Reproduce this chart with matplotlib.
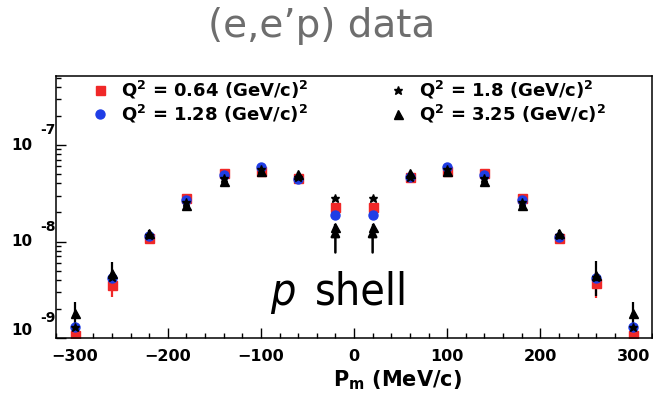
import numpy as np
import matplotlib
matplotlib.use('Agg')
import matplotlib.pyplot as plt
from matplotlib.transforms import offset_copy

plt.rcParams['font.family'] = 'DejaVu Sans'
plt.rcParams['font.weight'] = 'bold'
plt.rcParams['mathtext.fontset'] = 'dejavusans'

# missing momentum bins (MeV/c)
pm = [-300, -260, -220, -180, -140, -100, -60, -20, 20, 60, 100, 140, 180, 220, 260, 300]

# momentum distributions for each Q^2 setting
q064 = [1.07e-9, 3.54e-9, 1.09e-8, 2.82e-8, 5.13e-8, 5.39e-8, 4.55e-8, 2.28e-8,
        2.28e-8, 4.66e-8, 5.39e-8, 5.13e-8, 2.82e-8, 1.09e-8, 3.71e-9, 1.07e-9]
q128 = [1.30e-9, 4.19e-9, 1.14e-8, 2.69e-8, 4.89e-8, 5.92e-8, 4.45e-8, 1.88e-8,
        1.88e-8, 4.66e-8, 5.92e-8, 4.89e-8, 2.69e-8, 1.12e-8, 4.19e-9, 1.30e-9]
q180 = [1.30e-9, 4.30e-9, 1.18e-8, 2.60e-8, 4.60e-8, 5.70e-8, 4.70e-8, 2.84e-8,
        2.84e-8, 4.70e-8, 5.70e-8, 4.60e-8, 2.60e-8, 1.18e-8, 4.30e-9, 1.30e-9]
q325 = [1.82e-9, 4.72e-9, 1.22e-8, 2.39e-8, 4.24e-8, 5.39e-8, 5.00e-8, 1.41e-8,
        1.41e-8, 5.13e-8, 5.39e-8, 4.24e-8, 2.39e-8, 1.22e-8, 4.50e-9, 1.82e-9]

# relative uncertainties
q064_err = [0.25, 0.25, 0.05, 0.05, 0.04, 0.04, 0.04, 0.05, 0.05, 0.04, 0.04, 0.04, 0.05, 0.05, 0.30, 0.25]
q128_err = [0.12, 0.12, 0.05, 0.04, 0.04, 0.04, 0.04, 0.05, 0.05, 0.04, 0.04, 0.04, 0.04, 0.05, 0.12, 0.12]
q180_err = [0.10, 0.10, 0.05, 0.04, 0.04, 0.04, 0.04, 0.05, 0.05, 0.04, 0.04, 0.04, 0.04, 0.05, 0.10, 0.10]
q325_err = [0.30, 0.30, 0.08, 0.05, 0.05, 0.05, 0.05, 0.08, 0.08, 0.05, 0.05, 0.05, 0.05, 0.08, 0.40, 0.30]

labels = [r'Q$^\mathbf{2}$ = 0.64 (GeV/c)$^\mathbf{2}$',
          r'Q$^\mathbf{2}$ = 1.28 (GeV/c)$^\mathbf{2}$',
          r'Q$^\mathbf{2}$ = 1.8 (GeV/c)$^\mathbf{2}$',
          r'Q$^\mathbf{2}$ = 3.25 (GeV/c)$^\mathbf{2}$']

series = [(q064, q064_err, 's', '#f02828', 9),
          (q128, q128_err, 'o', '#1f3de6', 9),
          (q180, q180_err, '*', 'black', 9),
          (q325, q325_err, '^', 'black', 9)]

shell_pm = [-20, 20]
decades = [-9, -8, -7]

fig = plt.figure(figsize=(6.53, 3.98), dpi=100)
ax = fig.add_axes([56/653, 60/398, 596/653, 262/398])
ax.set_yscale('log')
ax.set_xlim(-320, 318)
ax.set_ylim(1e-9, 5.2e-7)

for vals, err, mk, col, ms in series:
    v = np.array(vals)
    e = v*np.array(err)
    ax.errorbar(pm, v, yerr=e, fmt=mk, color=col, ms=ms*0.72, mec=col,
                elinewidth=1.6, capsize=0, ls='none')

# arrows marking the p-shell peak bins
for x in shell_pm:
    y = q325[pm.index(x)]
    ax.annotate('', xy=(x, y), xytext=(x, 7.7e-9),
                arrowprops=dict(arrowstyle='-|>', lw=1.8, color='black',
                                mutation_scale=13, shrinkA=0, shrinkB=0))

ax.text((295-56)/596, 0.126, 'p', transform=ax.transAxes, ha='right', va='baseline',
        fontsize=32, style='italic', weight='normal', stretch='condensed')
ax.text((315-56)/596, 0.126, 'shell', transform=ax.transAxes, ha='left', va='baseline',
        fontsize=32, weight='normal', stretch='condensed')

# legend, two columns
leg_pos = [(0.0738, 0.946), (0.0738, 0.855), (0.574, 0.946), (0.574, 0.855)]
for (vals, err, mk, col, ms), lab, (lx, ly) in zip(series, labels, leg_pos):
    ax.plot([lx], [ly], marker=mk, color=col, ms=ms*0.72, transform=ax.transAxes, clip_on=False)
    ax.text(lx + 0.035, ly, lab, transform=ax.transAxes, ha='left', va='center', fontsize=13)

# axes styling
ax.set_xticks([-300, -200, -100, 0, 100, 200, 300])
ax.set_xticks(np.arange(-320, 321, 20), minor=True)
ax.tick_params(axis='x', which='major', direction='in', length=7, width=1, labelsize=11.5, pad=8, top=False)
ax.tick_params(axis='x', which='minor', direction='in', length=3.5, width=1, top=False)
ax.tick_params(axis='y', which='major', direction='in', length=7, width=1, right=False)
ax.tick_params(axis='y', which='minor', direction='in', length=3.5, width=1, right=False)
ax.set_yticklabels([], minor=True)
ax.set_yticks([10.0**d for d in decades])
ax.set_yticklabels([])
for s in ax.spines.values():
    s.set_linewidth(1.1)

# ROOT-style decade labels: "10" with the exponent raised beside it
ytr = ax.get_yaxis_transform()
for d in decades:
    low = d == decades[0]
    ax.text(-0.057, 10.0**d, '10', transform=ytr, ha='center',
            va='bottom' if low else 'center', fontsize=11)
    ax.text(-0.0134, 10.0**d, str(d), ha='center', va='center', fontsize=10,
            transform=offset_copy(ytr, fig=fig, x=0, y=20 if low else 15, units='dots'))

fig.text(333/653, 1 - 386/398, r'P$_\mathbf{m}$ (MeV/c)', ha='left', va='baseline', fontsize=15)

fig.text(322/653, 1 - 37/398, '(e,e’p) data', ha='center', va='baseline',
         fontsize=28, color='#6e6e6e', weight='normal')

fig.savefig('out.png', dpi=100)
